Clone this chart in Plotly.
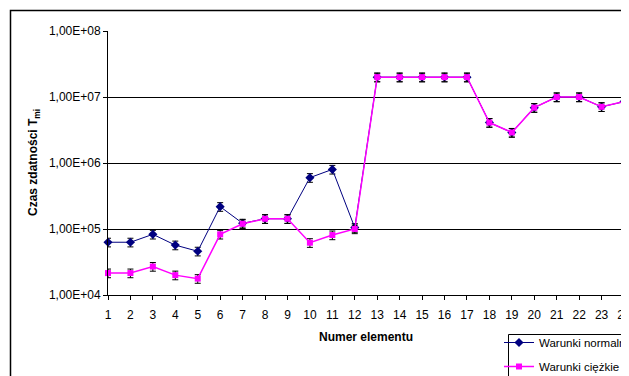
import plotly.graph_objects as go

elements = list(range(1, 25))
normal = [6.3e4, 6.3e4, 8.3e4, 5.7e4, 4.6e4, 2.18e5, 1.22e5, 1.43e5, 1.43e5, 6.0e5, 8.0e5, 1.05e5,
          2.0e7, 2.0e7, 2.0e7, 2.0e7, 2.0e7, 4.1e6, 2.9e6, 6.9e6, 1.0e7, 1.0e7, 7.1e6, 8.5e6]
heavy = [2.15e4, 2.15e4, 2.7e4, 2.0e4, 1.77e4, 8.3e4, 1.2e5, 1.43e5, 1.43e5, 6.2e4, 8.1e4, 1.0e5,
         2.0e7, 2.0e7, 2.0e7, 2.0e7, 2.0e7, 4.1e6, 2.9e6, 6.9e6, 1.0e7, 1.0e7, 7.1e6, 8.5e6]
err_pct = 15
ytick_vals = [1e4, 1e5, 1e6, 1e7, 1e8]
ytick_text = ["1,00E+04", "1,00E+05", "1,00E+06", "1,00E+07", "1,00E+08"]
names = ["Warunki normalne", "Warunki ciężkie"]

# page body has an 8px default margin; work in page pixels and convert
OFF = 8
PAGE_W, PAGE_H = 629, 376
W, H = PAGE_W - OFF, PAGE_H - OFF
PL, PR, PT, PB = 108, 624, 31, 295  # plot area in page pixels
L, T = PL - OFF, PT - OFF
R, B = PAGE_W - PR, PAGE_H - PB
pw, ph = PR - PL, PB - PT

def px_x(px):
    return (px - PL) / pw

def px_y(py):
    return (PB - py) / ph

font = dict(family="Liberation Sans, Arial, sans-serif", size=12, color="black")

fig = go.Figure()
fig.add_trace(go.Scatter(
    x=elements, y=normal, name=names[0], mode="lines+markers", legendgroup="a",
    line=dict(color="#000080", width=1),
    marker=dict(symbol="diamond", size=7, color="#000080"),
    error_y=dict(type="percent", value=err_pct, color="black", thickness=1, width=3),
    cliponaxis=False,
))
fig.add_trace(go.Scatter(
    x=elements, y=heavy, name=names[1], mode="lines+markers", legendgroup="b",
    line=dict(color="#FF00FF", width=1.5),
    marker=dict(symbol="square", size=6, color="#FF00FF"),
    error_y=dict(type="percent", value=err_pct, color="black", thickness=1, width=3),
    cliponaxis=False,
))

fig.update_layout(
    width=W, height=H,
    margin=dict(l=L, r=R, t=T, b=B, autoexpand=False),
    paper_bgcolor="white", plot_bgcolor="white",
    font=font,
    showlegend=True,
    legend=dict(
        x=px_x(499), y=px_y(328), xanchor="left", yanchor="top",
        borderwidth=0, bgcolor="rgba(0,0,0,0)",
        font=dict(family="Liberation Sans, Arial, sans-serif", size=11.5, color="black"),
        tracegroupgap=5,
    ),
    xaxis=dict(
        type="linear", range=[1, 24], tickvals=elements, ticktext=[str(e) for e in elements],
        showgrid=False, zeroline=False, showline=True, linecolor="black", linewidth=1,
        ticks="outside", ticklen=4, tickcolor="black", automargin=False,
        tickfont=dict(size=12), ticklabelstandoff=5, ticklabeloverflow="allow",
    ),
    yaxis=dict(
        type="log", range=[4, 8], tickvals=ytick_vals, ticktext=ytick_text,
        showgrid=True, gridcolor="black", gridwidth=1, zeroline=False,
        showline=True, linecolor="black", linewidth=1,
        ticks="outside", ticklen=4, tickcolor="black", automargin=False,
        tickfont=dict(size=12), ticklabeloverflow="allow",
    ),
)

# plot area right border (gray)
fig.add_shape(type="line", xref="paper", yref="paper", x0=1, x1=1, y0=0, y1=1,
              line=dict(color="#808080", width=1), layer="below")
# outer chart area border
fig.add_shape(type="rect", xref="paper", yref="paper",
              x0=px_x(10.5), x1=px_x(660), y0=px_y(400), y1=px_y(10.5),
              line=dict(color="black", width=1.5), layer="below")
# legend box
fig.add_shape(type="rect", xref="paper", yref="paper",
              x0=px_x(508.5), x1=px_x(660), y0=px_y(400), y1=px_y(334.5),
              line=dict(color="black", width=1), fillcolor="white", layer="above")

fig.add_annotation(text="<b>Czas zdatności T<sub>mi</sub></b>", xref="paper", yref="paper",
                   x=px_x(34), y=0.5, textangle=-90, showarrow=False,
                   xanchor="center", yanchor="middle", font=dict(size=12))
fig.add_annotation(text="<b>Numer elementu</b>", xref="paper", yref="paper",
                   x=0.5, y=px_y(337), showarrow=False,
                   xanchor="center", yanchor="middle", font=dict(size=12))

fig.write_html("out.html")
